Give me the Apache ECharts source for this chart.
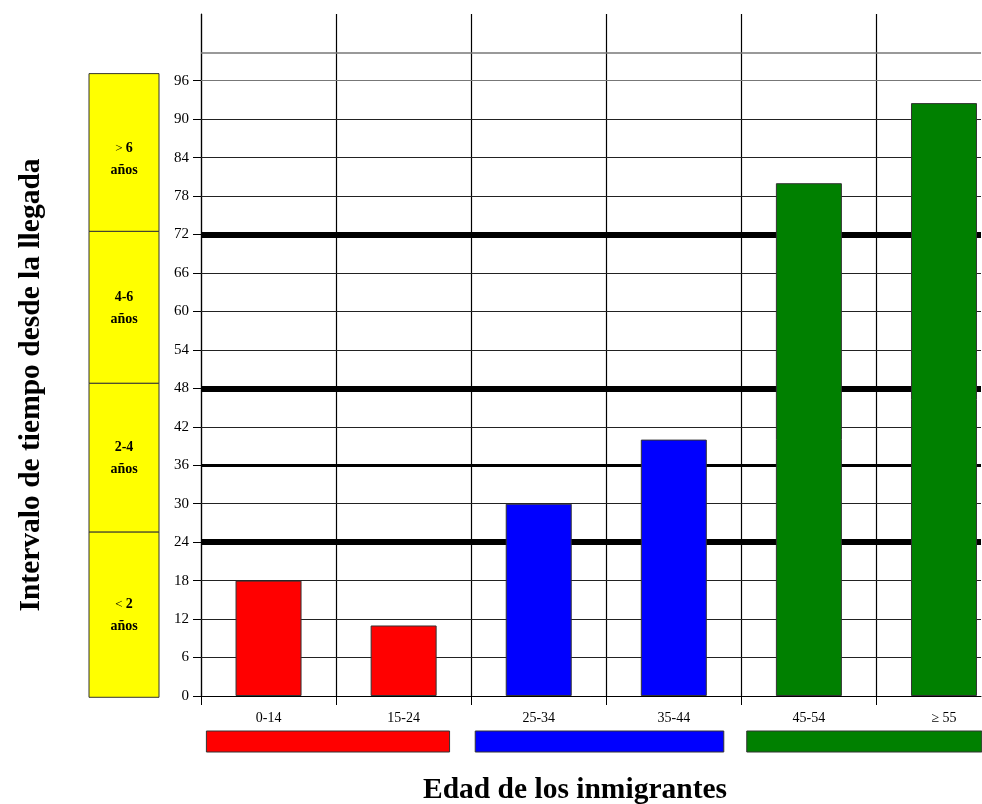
<!DOCTYPE html>
<html>
<head>
<meta charset="utf-8">
<script src="https://cdn.jsdelivr.net/npm/echarts@6/dist/echarts.min.js"></script>
<style>
  html, body { margin: 0; padding: 0; background: #fff; }
  #chart { width: 982px; height: 804px; }
</style>
</head>
<body>
<div id="chart"></div>
<script>
// datos
const ageGroups = ['0-14', '15-24', '25-34', '35-44', '45-54', '≥ 55'];
const barPositions = [0.5, 1.5, 2.5, 3.5, 4.5, 5.5];
const barValues = [18, 11, 30, 40, 80, 92.5];
const yTicks = [0, 6, 12, 18, 24, 30, 36, 42, 48, 54, 60, 66, 72, 78, 84, 90, 96];
const xTicks = [0, 1, 2, 3, 4, 5];
const boldLines = [24, 48, 72];
const midLines = [36];
const topLine = 100.4;
// intervalos de tiempo (cajas amarillas)
const intervalLabels = ['< 2', '2-4', '4-6', '> 6'];
const intervalEdges = [-0.2, 25.6, 48.8, 72.5, 97.1];
// barras de color bajo el eje (grupos de edad)
const groupRanges = [[0.04, 1.84], [2.03, 3.87], [4.04, 5.78]];
const groupColors = ['#FF0000', '#0000FF', '#008000'];

const yMax = 106.4;
const xMax = 5.774;
const FONT = 'Liberation Serif';

const chart = echarts.init(document.getElementById('chart'));

const hLineData = yTicks.filter(v => v > 0).map(v => ({
  yAxis: v,
  lineStyle: {
    width: boldLines.includes(v) ? 6 : (midLines.includes(v) ? 3 : 1),
    color: boldLines.includes(v) || midLines.includes(v) ? '#000' : (v === 96 ? '#777' : '#222'),
    type: 'solid'
  }
}));
hLineData.push({ yAxis: topLine, lineStyle: { width: 1.5, color: '#777', type: 'solid' } });

const option = {
  animation: false,
  grid: { left: 201, right: 1, top: 14, bottom: 108 },
  xAxis: {
    type: 'value',
    min: 0,
    max: xMax,
    interval: 1,
    axisLine: { show: true, onZero: false, lineStyle: { color: '#000', width: 1 } },
    axisTick: { show: true, length: 9, customValues: xTicks, lineStyle: { color: '#000' } },
    axisLabel: {
      customValues: barPositions,
      formatter: v => ageGroups[barPositions.indexOf(v)] || '',
      margin: 15,
      fontFamily: FONT,
      fontSize: 14,
      color: '#000'
    },
    splitLine: { show: true, lineStyle: { color: '#000', width: 1.2 } }
  },
  yAxis: {
    type: 'value',
    min: 0,
    max: yMax,
    interval: 6,
    axisLine: { show: true, lineStyle: { color: '#000', width: 1.2 } },
    axisTick: { show: true, length: 8, customValues: yTicks, lineStyle: { color: '#000' } },
    axisLabel: {
      customValues: yTicks,
      margin: 12,
      fontFamily: FONT,
      fontSize: 15,
      color: '#000'
    },
    splitLine: { show: false }
  },
  series: [
    {
      type: 'line',
      data: [],
      z: 1,
      silent: true,
      markLine: {
        z: 1,
        silent: true,
        symbol: ['none', 'none'],
        label: { show: false },
        emphasis: { disabled: true },
        data: hLineData
      }
    },
    {
      type: 'bar',
      z: 3,
      barWidth: 66,
      itemStyle: { borderColor: '#333', borderWidth: 1 },
      data: barPositions.map((x, i) => ({
        value: [x, barValues[i]],
        itemStyle: { color: groupColors[Math.floor(i / 2)] }
      }))
    }
  ]
};
chart.setOption(option);

// elementos decorativos situados con las escalas de los ejes
const graphics = [];
for (let i = 0; i < intervalLabels.length; i++) {
  const yBottom = chart.convertToPixel({ yAxisIndex: 0 }, intervalEdges[i]);
  const yTop = chart.convertToPixel({ yAxisIndex: 0 }, intervalEdges[i + 1]);
  const lbl = intervalLabels[i];
  let txt;
  if (lbl[0] === '<' || lbl[0] === '>') {
    txt = '{r|' + lbl[0] + ' }{b|' + lbl.slice(2) + '}\n{b|años}';
  } else {
    txt = '{b|' + lbl + '}\n{b|años}';
  }
  graphics.push({
    type: 'rect',
    shape: { x: 89, y: yTop, width: 70, height: yBottom - yTop },
    style: { fill: '#FFFF00', stroke: '#333', lineWidth: 1 },
    silent: true
  });
  graphics.push({
    type: 'text',
    x: 124,
    y: (yTop + yBottom) / 2 + (i === 3 ? 7 : 1),
    silent: true,
    style: {
      text: txt,
      align: 'center',
      verticalAlign: 'middle',
      rich: {
        r: { fontFamily: FONT, fontSize: 13, fontWeight: 'normal', fill: '#000', lineHeight: 22 },
        b: { fontFamily: FONT, fontSize: 14, fontWeight: 'bold', fill: '#000', lineHeight: 22 }
      }
    }
  });
}
groupRanges.forEach((r, i) => {
  const x0 = chart.convertToPixel({ xAxisIndex: 0 }, r[0]);
  const x1 = chart.convertToPixel({ xAxisIndex: 0 }, r[1]);
  graphics.push({
    type: 'rect',
    shape: { x: x0, y: 731, width: x1 - x0, height: 21 },
    style: { fill: groupColors[i], stroke: '#333', lineWidth: 1 },
    silent: true
  });
});
graphics.push({
  type: 'text',
  x: 575,
  y: 790,
  style: {
    text: 'Edad de los inmigrantes',
    align: 'center',
    verticalAlign: 'middle',
    fontFamily: FONT,
    fontSize: 29.5,
    fontWeight: 'bold',
    fill: '#000'
  }
});
graphics.push({
  type: 'text',
  x: 31,
  y: 385,
  rotation: Math.PI / 2,
  style: {
    text: 'Intervalo de tiempo desde la llegada',
    align: 'center',
    verticalAlign: 'middle',
    fontFamily: FONT,
    fontSize: 29.5,
    fontWeight: 'bold',
    fill: '#000'
  }
});
chart.setOption({ graphic: graphics });
</script>
</body>
</html>
